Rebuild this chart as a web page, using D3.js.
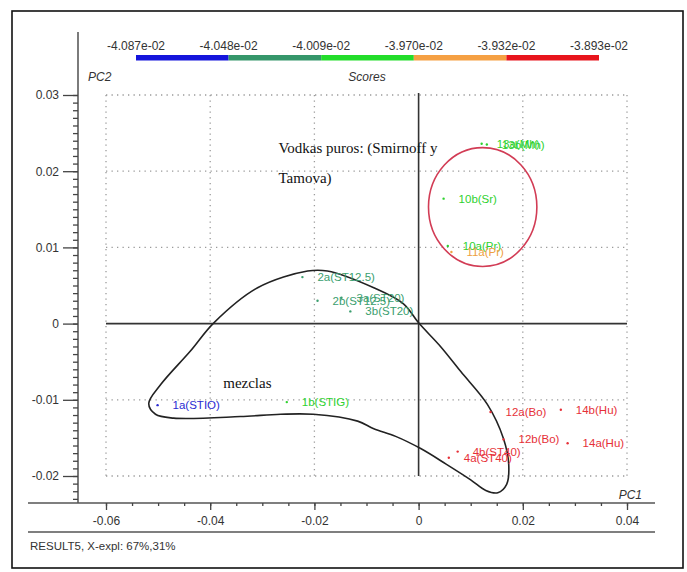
<!DOCTYPE html>
<html>
<head>
<meta charset="utf-8">
<script src="https://cdn.jsdelivr.net/npm/d3@7"></script>
<style>
  html, body { margin: 0; padding: 0; background: #fff; }
  svg { display: block; }
</style>
</head>
<body>
<svg id="chart" width="687" height="572"></svg>
<script>
// ---------------- DATA ----------------
const sampleLabels = ["1a(STIO)", "1b(STIG)", "2a(ST12.5)", "2b(ST12.5)", "3a(ST20)", "3b(ST20)",
  "10b(Sr)", "13a(Mh)", "13b(Mh)", "10a(Pr)", "11a(Pr)",
  "12a(Bo)", "14b(Hu)", "12b(Bo)", "14a(Hu)", "4a(ST40)", "4b(ST40)"];
const pc1Values = [-0.0501, -0.0253, -0.0223, -0.0194, -0.0148, -0.0131,
  0.0048, 0.0121, 0.0131, 0.0056, 0.0063,
  0.0138, 0.0273, 0.0163, 0.0286, 0.0058, 0.0075];
const pc2Values = [-0.0107, -0.0103, 0.0061, 0.0030, 0.0034, 0.0016,
  0.0164, 0.0236, 0.0235, 0.0102, 0.0094,
  -0.0116, -0.0113, -0.0152, -0.0157, -0.0176, -0.0168];
const scoreGroup = [0, 2, 1, 1, 1, 1, 2, 2, 2, 2, 3, 4, 4, 4, 4, 4, 4];

const scoreBreaks = ["-4.087e-02", "-4.048e-02", "-4.009e-02", "-3.970e-02", "-3.932e-02", "-3.893e-02"];
const scoreColors = ["#1414dc", "#35966a", "#22dd2a", "#f5a043", "#e8141c"];
const labelColors = ["#2a2ad2", "#3a9e6e", "#2ed12e", "#eea040", "#e63038"];

const xTicks = [-0.06, -0.04, -0.02, 0, 0.02, 0.04];
const xTickLabels = ["-0.06", "-0.04", "-0.02", "0", "0.02", "0.04"];
const yTicks = [-0.02, -0.01, 0, 0.01, 0.02, 0.03];
const yTickLabels = ["-0.02", "-0.01", "0", "0.01", "0.02", "0.03"];

// hand-drawn outline "mezclas" (PC1, PC2)
const outlinePC1 = [-0.0518, -0.0495, -0.0438, -0.0393, -0.0309, -0.0213, -0.0175, -0.0086, -0.0029, 0.0000,
  0.0042, 0.0081, 0.0132, 0.0163, 0.0173, 0.0169, 0.0152, 0.0129, 0.0100, 0.0052, 0.0004,
  -0.0044, -0.0086, -0.0117, -0.0202, -0.0265, -0.0342, -0.0470, -0.0505];
const outlinePC2 = [-0.0105, -0.0080, -0.0036, 0.0001, 0.0047, 0.0069, 0.0069, 0.0047, 0.0026, 0.0001,
  -0.0030, -0.0063, -0.0106, -0.0151, -0.0185, -0.0211, -0.0222, -0.0219, -0.0205, -0.0184, -0.0164,
  -0.0148, -0.0138, -0.0128, -0.0119, -0.0119, -0.0122, -0.0124, -0.0119];

// red circle "Vodkas puros"
const circleCenter = [0.0123, 0.0153];
const circleRadii = [0.0104, 0.0078];

const annotations = ["Vodkas puros: (Smirnoff y", "Tamova)", "mezclas"];
const annotationPC1 = [-0.0269, -0.0269, -0.0375];
const annotationPC2 = [0.0224, 0.0185, -0.0085];

// ---------------- CHART ----------------
const SANS = "'Liberation Sans', Arial, sans-serif";
const SERIF = "'Liberation Serif', 'Times New Roman', serif";
const svg = d3.select("#chart");
const x = d3.scaleLinear().domain([-0.06, 0.04]).range([106, 627]);
const y = d3.scaleLinear().domain([-0.02, 0.03]).range([476, 95]);

// outer frame
svg.append("rect").attr("x", 12).attr("y", 11).attr("width", 671).attr("height", 557)
  .attr("fill", "none").attr("stroke", "#111").attr("stroke-width", 1.6);

// dotted grid
const grid = svg.append("g").attr("stroke", "#9a9a9a").attr("stroke-width", 1.3)
  .attr("stroke-dasharray", "1.3,4.2").attr("fill", "none");
xTicks.filter(d => d !== 0).forEach(d => {
  grid.append("line").attr("x1", x(d)).attr("x2", x(d)).attr("y1", y(0.03)).attr("y2", y(-0.02));
});
yTicks.filter(d => d !== 0).forEach(d => {
  grid.append("line").attr("x1", x(-0.06)).attr("x2", x(0.04)).attr("y1", y(d)).attr("y2", y(d));
});

// zero lines
svg.append("line").attr("x1", x(-0.06)).attr("x2", x(0.04)).attr("y1", y(0)).attr("y2", y(0))
  .attr("stroke", "#333").attr("stroke-width", 1.6);
svg.append("line").attr("x1", x(0)).attr("x2", x(0)).attr("y1", y(0.03) - 2).attr("y2", y(-0.02))
  .attr("stroke", "#333").attr("stroke-width", 1.6);

// y axis
const yAxisX = 78;
svg.append("line").attr("x1", yAxisX).attr("x2", yAxisX).attr("y1", 32).attr("y2", 503)
  .attr("stroke", "#444").attr("stroke-width", 1.4);
const yMinor = d3.range(-23, 31).map(i => i / 1000);
svg.append("g").attr("transform", `translate(${yAxisX},0)`)
  .call(d3.axisLeft(y).tickValues(yMinor).tickSize(5).tickFormat(""))
  .call(g => g.select(".domain").remove())
  .selectAll("line").attr("stroke", "#444").attr("stroke-width", 1.3);
const yAx = svg.append("g").attr("transform", `translate(${yAxisX},0)`)
  .call(d3.axisLeft(y).tickValues(yTicks).tickSize(15).tickPadding(4)
    .tickFormat((d, i) => yTickLabels[i]))
  .call(g => g.select(".domain").remove());
yAx.selectAll("line").attr("stroke", "#444").attr("stroke-width", 1.3);
yAx.selectAll("text").style("font-size", "12px").attr("fill", "#333").style("font-family", SANS);

// x axis
const xAxisY = 503;
svg.append("line").attr("x1", 28).attr("x2", 655).attr("y1", xAxisY).attr("y2", xAxisY)
  .attr("stroke", "#555").attr("stroke-width", 1.6);
svg.append("line").attr("x1", 28).attr("x2", 655).attr("y1", 532).attr("y2", 532)
  .attr("stroke", "#555").attr("stroke-width", 1.6);
const xMinor = d3.range(-12, 9).map(i => i * 0.005);
svg.append("g").attr("transform", `translate(0,${xAxisY})`)
  .call(d3.axisBottom(x).tickValues(xMinor).tickSize(3).tickFormat(""))
  .call(g => g.select(".domain").remove())
  .selectAll("line").attr("stroke", "#444").attr("stroke-width", 1.3);
const xAx = svg.append("g").attr("transform", `translate(0,${xAxisY})`)
  .call(d3.axisBottom(x).tickValues(xTicks).tickSize(7).tickPadding(6)
    .tickFormat((d, i) => xTickLabels[i]))
  .call(g => g.select(".domain").remove());
xAx.selectAll("line").attr("stroke", "#444").attr("stroke-width", 1.3);
xAx.selectAll("text").style("font-size", "12px").attr("fill", "#333").style("font-family", SANS);

// axis titles
function sans(sel, size) { return sel.style("font-family", SANS).style("font-size", size + "px"); }
sans(svg.append("text").attr("x", 88).attr("y", 81).text("PC2"), 12)
  .style("font-style", "italic").attr("fill", "#333");
sans(svg.append("text").attr("x", 642).attr("y", 499).attr("text-anchor", "end").text("PC1"), 12)
  .style("font-style", "italic").attr("fill", "#333");
sans(svg.append("text").attr("x", 367).attr("y", 81).attr("text-anchor", "middle").text("Scores"), 12)
  .style("font-style", "italic").attr("fill", "#333");
sans(svg.append("text").attr("x", 30).attr("y", 550).text("RESULT5, X-expl: 67%,31%"), 11.5)
  .attr("fill", "#333");

// color bar
const bar = d3.scaleLinear().domain([0, scoreColors.length]).range([136, 599]);
svg.append("g").selectAll("rect").data(scoreColors).join("rect")
  .attr("x", (d, i) => bar(i)).attr("width", (d, i) => bar(i + 1) - bar(i))
  .attr("y", 55).attr("height", 5.5).attr("fill", d => d);
sans(svg.append("g").selectAll("text").data(scoreBreaks).join("text")
  .attr("x", (d, i) => bar(i)).attr("y", 50).attr("text-anchor", "middle")
  .attr("fill", "#333").text(d => d), 12);

// outline
const outline = outlinePC1.map((v, i) => [x(v), y(outlinePC2[i])]);
svg.append("path").attr("d", d3.line().curve(d3.curveCatmullRomClosed.alpha(0.5))(outline))
  .attr("fill", "none").attr("stroke", "#222").attr("stroke-width", 1.6);

// red circle
svg.append("ellipse")
  .attr("cx", x(circleCenter[0])).attr("cy", y(circleCenter[1]))
  .attr("rx", x(circleRadii[0]) - x(0)).attr("ry", y(0) - y(circleRadii[1]))
  .attr("fill", "none").attr("stroke", "#d23c55").attr("stroke-width", 1.6);

// points + labels
const pts = sampleLabels.map((l, i) => ({ l, px: pc1Values[i], py: pc2Values[i], g: scoreGroup[i] }));
svg.append("g").selectAll("circle").data(pts).join("circle")
  .attr("cx", d => x(d.px)).attr("cy", d => y(d.py)).attr("r", 1.2)
  .attr("fill", d => labelColors[d.g]);
sans(svg.append("g").selectAll("text").data(pts).join("text")
  .attr("x", d => x(d.px) + 15).attr("y", d => y(d.py) + 4)
  .attr("fill", d => labelColors[d.g]).text(d => d.l), 11.5);

// annotations
svg.append("g").selectAll("text").data(annotations).join("text")
  .attr("x", (d, i) => x(annotationPC1[i])).attr("y", (d, i) => y(annotationPC2[i]))
  .style("font-family", SERIF).style("font-size", "15px")
  .attr("fill", "#111").text(d => d);
</script>
</body>
</html>
